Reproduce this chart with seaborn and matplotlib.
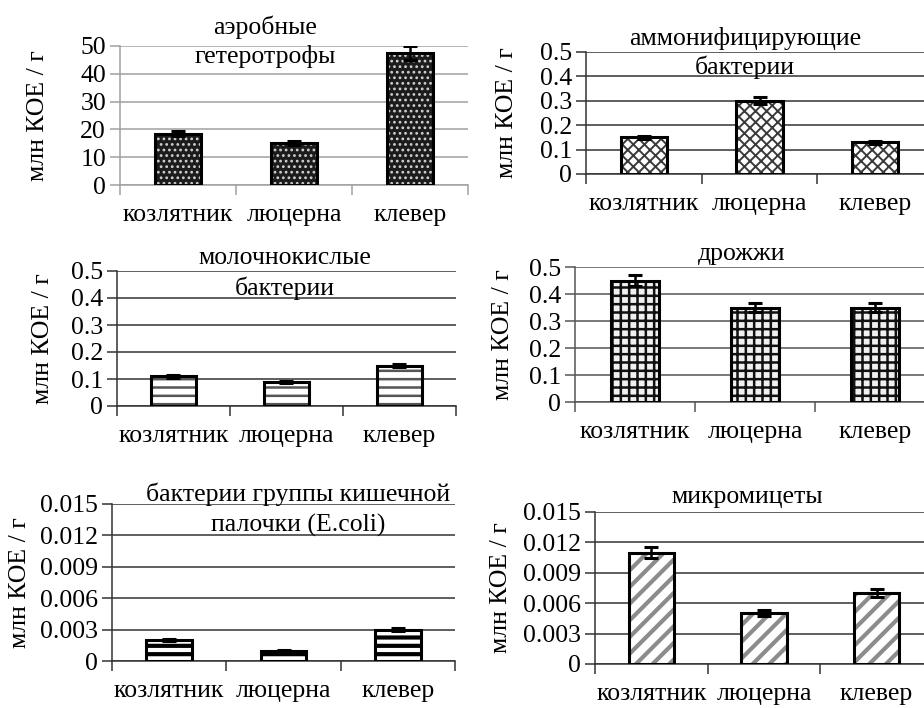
import matplotlib
matplotlib.use("Agg")
import matplotlib.pyplot as plt
import seaborn as sns
import pandas as pd
import numpy as np

# Crop names shared by all panels
crops = ["козлятник", "люцерна", "клевер"]

# Counts of microorganisms, млн КОЕ / г, with errors
aerobic = [18.5, 15.0, 47.5]
aerobic_err = [1.0, 0.7, 2.4]
ammonif = [0.15, 0.30, 0.13]
ammonif_err = [0.006, 0.015, 0.005]
lactic = [0.11, 0.09, 0.15]
lactic_err = [0.005, 0.004, 0.006]
yeast = [0.45, 0.35, 0.35]
yeast_err = [0.022, 0.016, 0.016]
ecoli = [0.002, 0.001, 0.003]
ecoli_err = [0.0001, 0.00005, 0.00015]
micro = [0.011, 0.005, 0.007]
micro_err = [0.0005, 0.0003, 0.0004]

titles = ["аэробные\nгетеротрофы", "аммонифицирующие\nбактерии",
          "молочнокислые\nбактерии", "дрожжи",
          "бактерии группы кишечной\nпалочки (E.coli)", "микромицеты"]
ylabel = "млн КОЕ / г"

yticks_a = [0, 10, 20, 30, 40, 50]
yticks_b = [0, 0.1, 0.2, 0.3, 0.4, 0.5]
yticks_c = [0, 0.003, 0.006, 0.009, 0.012, 0.015]
ytick_labels_c = ["0", "0.003", "0.006", "0.009", "0.012", "0.015"]

sns.set_theme(style="white")
plt.rcParams["font.family"] = ["Liberation Serif", "DejaVu Serif"]
plt.rcParams["hatch.linewidth"] = 1.6

W, H = 924, 708
fig = plt.figure(figsize=(W / 100, H / 100), dpi=100)
FS = 18.5


def box(left, right, top, bottom):
    return [left / W, 1 - bottom / H, (right - left) / W, (bottom - top) / H]


panels = [
    dict(vals=aerobic, err=aerobic_err, ticks=yticks_a, tlabels=None,
         rect=box(120, 468, 46, 185), face="#1c1c1c", hcol="#d0d0d0", hatch="...",
         hlw=1.2, grid="#a0a0a0", spine="#a0a0a0", title_xy=(265, 27, 56), ylab_x=38),
    dict(vals=ammonif, err=ammonif_err, ticks=yticks_b, tlabels=None,
         rect=box(586, 933, 52, 174), face="white", hcol="#3a3a3a", hatch="xxx",
         hlw=1.4, grid="#333333", spine="#333333", title_xy=(745, 38, 67), ylab_x=507),
    dict(vals=lactic, err=lactic_err, ticks=yticks_b, tlabels=None,
         rect=box(117, 456, 271, 406), face="white", hcol="#555555", hatch="--",
         hlw=1.8, grid="#333333", spine="#333333", title_xy=(285, 258, 288), ylab_x=43),
    dict(vals=yeast, err=yeast_err, ticks=yticks_b, tlabels=None,
         rect=box(575, 935, 267, 402), face="#f0f0f0", hcol="#111111", hatch="++",
         hlw=1.8, grid="#555555", spine="#555555", title_xy=(742, 254, None), ylab_x=503),
    dict(vals=ecoli, err=ecoli_err, ticks=yticks_c, tlabels=ytick_labels_c,
         rect=box(112, 455, 504, 661), face="white", hcol="black", hatch="--",
         hlw=3.0, grid="#333333", spine="#333333", title_xy=(298, 494, 525), ylab_x=20),
    dict(vals=micro, err=micro_err, ticks=yticks_c, tlabels=ytick_labels_c,
         rect=box(595, 933, 512, 664), face="white", hcol="#8c8c8c", hatch="//",
         hlw=3.0, grid="#333333", spine="#333333", title_xy=(747, 497, None), ylab_x=501),
]

for p, title in zip(panels, titles):
    ax = fig.add_axes(p["rect"])
    df = pd.DataFrame({"crop": crops, "value": p["vals"]})
    # patterned fill
    sns.barplot(data=df, x="crop", y="value", ax=ax, color=p["face"],
                edgecolor=p["hcol"], linewidth=0, hatch=p["hatch"],
                width=0.4, saturation=1, errorbar=None, zorder=2)
    for bar in ax.patches:
        if hasattr(bar, "set_hatch_linewidth"):
            bar.set_hatch_linewidth(p["hlw"])
    # bar outlines
    sns.barplot(data=df, x="crop", y="value", ax=ax, color="black",
                fill=False, linewidth=2.2, width=0.4, errorbar=None, zorder=3)
    ax.errorbar(np.arange(len(crops)), p["vals"], yerr=p["err"], fmt="none",
                ecolor="black", elinewidth=1.8, capsize=5, capthick=2.2, zorder=4)

    ax.set_xlim(-0.5, len(crops) - 0.5)
    ax.set_ylim(p["ticks"][0], p["ticks"][-1])
    ax.set_yticks(p["ticks"])
    if p["tlabels"] is not None:
        ax.set_yticklabels(p["tlabels"])
    else:
        ax.set_yticklabels([f"{t:g}" for t in p["ticks"]])
    ax.set_xlabel("")
    ax.set_ylabel("")
    ax.grid(axis="y", color=p["grid"], linewidth=1.1, zorder=0)
    ax.set_axisbelow(True)
    for s in ["top", "right"]:
        ax.spines[s].set_visible(False)
    ax.spines["left"].set_color(p["spine"])
    ax.spines["left"].set_linewidth(1.1)
    ax.spines["bottom"].set_color(p["spine"])
    ax.spines["bottom"].set_linewidth(1.1)
    ax.tick_params(axis="y", which="major", length=7, width=1.1, color=p["grid"],
                   direction="out", left=True, labelsize=FS, pad=3, labelcolor="black")
    ax.set_xticks(np.arange(-0.5, len(crops), 1.0), minor=True)
    ax.tick_params(axis="x", which="minor", length=7, width=1.1, color=p["spine"],
                   direction="out", bottom=True)
    ax.tick_params(axis="x", which="major", length=0, labelsize=FS, pad=14,
                   labelcolor="black")

    tx, ty1, ty2 = p["title_xy"]
    lines = title.split("\n")
    fig.text(tx / W, 1 - ty1 / H, lines[0], ha="center", va="center",
             fontsize=FS, color="black")
    if ty2 is not None and len(lines) > 1:
        fig.text(tx / W, 1 - ty2 / H, lines[1], ha="center", va="center",
                 fontsize=FS, color="black")

    cy = (p["rect"][1] + p["rect"][3] / 2)
    fig.text(p["ylab_x"] / W, cy, ylabel, rotation=90, ha="center",
             va="center", fontsize=FS, color="black")

fig.savefig("out.png", dpi=100, facecolor="white")
